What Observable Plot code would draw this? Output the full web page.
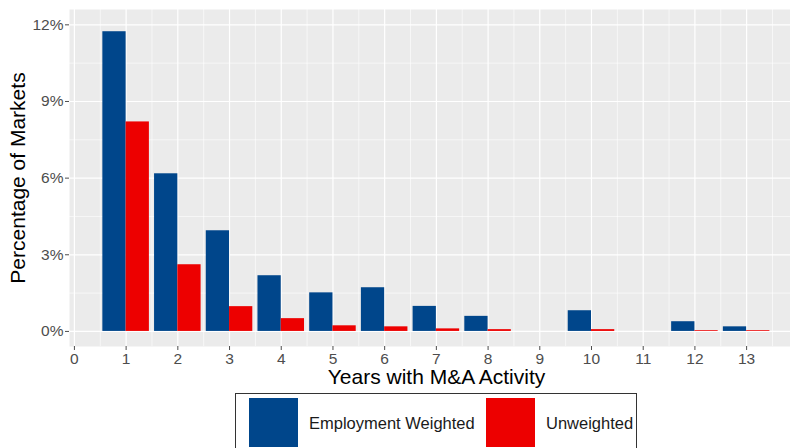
<!DOCTYPE html>
<html>
<head>
<meta charset="utf-8">
<script src="https://cdn.jsdelivr.net/npm/d3@7"></script>
<script src="https://cdn.jsdelivr.net/npm/@observablehq/plot@0.6"></script>
<style>
html, body { margin: 0; padding: 0; overflow: hidden; background: #fff; width: 790px; height: 448px; }
#wrap { position: relative; width: 790px; height: 448px; font-family: "Liberation Sans", Arial, sans-serif; }
#legend { position: absolute; left: 235px; top: 393px; width: 402px; height: 70px; border: 1px solid #333; box-sizing: border-box; }
.key { position: absolute; top: 4px; width: 49px; height: 49px; }
.lab { position: absolute; top: 21px; font-size: 16.5px; color: #1a1a1a; line-height: 16px; }
</style>
</head>
<body>
<div id="wrap">
<div id="chart"></div>
<div id="legend">
  <div class="key" style="left:13px;background:#00468B"></div>
  <div class="lab" style="left:73px">Employment Weighted</div>
  <div class="key" style="left:250px;background:#ED0000"></div>
  <div class="lab" style="left:310px">Unweighted</div>
</div>
</div>
<script>
const years = [1, 2, 3, 4, 5, 6, 7, 8, 9, 10, 11, 12, 13];
const weighted = [11.73, 6.17, 3.94, 2.18, 1.51, 1.71, 0.98, 0.59, 0, 0.81, 0, 0.38, 0.18];
const unweighted = [8.2, 2.61, 0.97, 0.5, 0.22, 0.18, 0.10, 0.07, 0, 0.07, 0, 0.03, 0.03];
const seriesNames = ["Employment Weighted", "Unweighted"];
const colors = ["#00468B", "#ED0000"];
const xTicks = d3.range(0, 14);
const yTicks = [0, 3, 6, 9, 12];

const rows = [];
years.forEach((yr, i) => {
  rows.push({year: yr, series: seriesNames[0], value: weighted[i], x1: yr - 0.45, x2: yr});
  rows.push({year: yr, series: seriesNames[1], value: unweighted[i], x1: yr, x2: yr + 0.45});
});
const minorX = d3.range(0.5, 14, 1);
const minorY = [1.5, 4.5, 7.5, 10.5];

const chart = Plot.plot({
  width: 790,
  height: 390,
  marginLeft: 69,
  marginRight: -13,
  marginTop: 9,
  marginBottom: 44,
  style: {fontFamily: "Liberation Sans, Arial, sans-serif", background: "transparent", overflow: "hidden"},
  x: {domain: [-0.095, 14.1], axis: null},
  y: {domain: [-0.59, 12.6], axis: null},
  color: {domain: seriesNames, range: colors},
  marks: [
    Plot.frame({fill: "#EBEBEB", stroke: null}),
    Plot.ruleX(minorX, {stroke: "#fff", strokeWidth: 0.6}),
    Plot.ruleY(minorY, {stroke: "#fff", strokeWidth: 0.6}),
    Plot.ruleX(xTicks, {stroke: "#fff", strokeWidth: 1.2}),
    Plot.ruleY(yTicks, {stroke: "#fff", strokeWidth: 1.2}),
    Plot.rectY(rows, {x1: "x1", x2: "x2", y1: 0, y2: "value", fill: "series"}),
    Plot.axisX({ticks: xTicks, tickSize: 4, tickPadding: 2, fontSize: 15.5, color: "#4D4D4D", label: null, tickFormat: d => String(d)}),
    Plot.axisY({ticks: yTicks, tickSize: 4, tickPadding: 2, fontSize: 15.5, color: "#4D4D4D", label: null, tickFormat: d => d + "%"}),
    Plot.text(["Years with M&A Activity"], {frameAnchor: "bottom", dy: 31, fontSize: 21, fill: "#000", textAnchor: "middle", lineAnchor: "middle"}),
    Plot.text(["Percentage of Markets"], {frameAnchor: "left", dx: -51, rotate: -90, fontSize: 21, fill: "#000", textAnchor: "middle", lineAnchor: "middle"})
  ]
});
document.getElementById("chart").appendChild(chart);
</script>
</body>
</html>
